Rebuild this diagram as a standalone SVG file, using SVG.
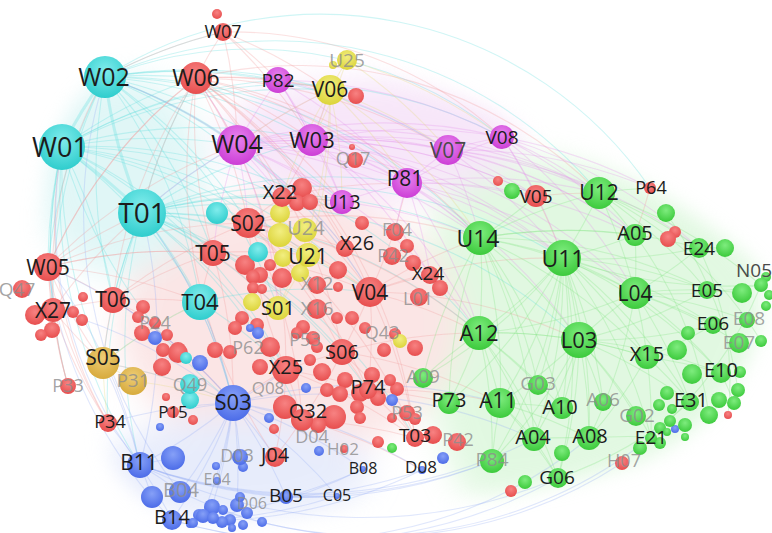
<svg xmlns="http://www.w3.org/2000/svg" width="772" height="533" viewBox="0 0 772 533">
<defs>
<filter id="blur" x="-40%" y="-40%" width="180%" height="180%"><feGaussianBlur stdDeviation="16"/></filter>
<filter id="blur2" x="-20%" y="-20%" width="140%" height="140%"><feGaussianBlur stdDeviation="10"/></filter>
<mask id="env" maskUnits="userSpaceOnUse" x="0" y="0" width="772" height="533"><path fill="#fff" filter="url(#blur2)" d="M40 200 Q50 110 105 65 Q200 18 300 40 Q420 70 520 118 Q650 170 765 265 L765 330 Q735 415 650 462 Q540 500 420 508 Q300 525 190 525 Q125 505 98 440 Q50 380 25 300 Q22 250 40 200Z"/></mask>
<radialGradient id="gc" cx="50%" cy="35%" r="65%"><stop offset="0" stop-color="#80ecec"/><stop offset="1" stop-color="#2fcdcd"/></radialGradient>
<radialGradient id="gr" cx="50%" cy="35%" r="65%"><stop offset="0" stop-color="#f78282"/><stop offset="1" stop-color="#e74e4e"/></radialGradient>
<radialGradient id="gm" cx="50%" cy="35%" r="65%"><stop offset="0" stop-color="#e884ee"/><stop offset="1" stop-color="#cc3ed6"/></radialGradient>
<radialGradient id="gg" cx="50%" cy="35%" r="65%"><stop offset="0" stop-color="#7eec7e"/><stop offset="1" stop-color="#3cca3c"/></radialGradient>
<radialGradient id="gb" cx="50%" cy="35%" r="65%"><stop offset="0" stop-color="#86a0f7"/><stop offset="1" stop-color="#4c6ce8"/></radialGradient>
<radialGradient id="gy" cx="50%" cy="35%" r="65%"><stop offset="0" stop-color="#f2ee80"/><stop offset="1" stop-color="#dcd43a"/></radialGradient>
<radialGradient id="go" cx="50%" cy="35%" r="65%"><stop offset="0" stop-color="#eecd76"/><stop offset="1" stop-color="#d7aa3c"/></radialGradient>
</defs>
<style>
.e path{fill:none;stroke-width:1.1;stroke-opacity:.3}
.ec path{stroke:#5fdede}.er path{stroke:#f29a9a}.em path{stroke:#e394ea}.eg path{stroke:#86e486}.eb path{stroke:#98aef4}.ey path{stroke:#e6dc80}
.c{fill:url(#gc)}.r{fill:url(#gr)}.m{fill:url(#gm)}.g{fill:url(#gg)}.b{fill:url(#gb)}.y{fill:url(#gy)}.o{fill:url(#go)}
text{font-family:"Open Sans","Noto Sans","DejaVu Sans",sans-serif;text-anchor:middle;fill:#1c1c1c}
text.lg{fill:#8c8c8c;fill-opacity:.8}
text.ld{fill:#4a4a4a}
</style>
<rect width="772" height="533" fill="#ffffff"/>
<g id="haze" mask="url(#env)"><g filter="url(#blur)" opacity="0.5">
<path fill="#c4f2c4" d="M440 175 Q560 135 680 195 Q772 250 770 300 Q760 390 700 440 Q600 500 470 500 Q420 420 430 300 Z"/>
<ellipse cx="290" cy="325" rx="170" ry="130" fill="#f7cccc"/>
<ellipse cx="120" cy="175" rx="85" ry="100" fill="#c2eeee"/>
<ellipse cx="370" cy="140" rx="150" ry="60" fill="#efcdf3"/>
<ellipse cx="235" cy="470" rx="135" ry="55" fill="#d0daf8"/>
</g></g>
<g id="connectors">
<g class="e ec">
<path d="M105 77A500 500 0 0 1 196 78"/><path d="M105 77A500 500 0 0 1 223 32"/><path d="M105 77A500 500 0 0 1 278 80"/><path d="M105 77A500 500 0 0 1 330 90"/><path d="M105 77A500 500 0 0 1 237 145"/><path d="M105 77A500 500 0 0 1 312 140"/><path d="M105 77A500 500 0 0 1 248 223"/><path d="M105 77A500 500 0 0 1 213 253"/><path d="M105 77A500 500 0 0 1 282 197"/><path d="M105 77A500 500 0 0 1 342 202"/><path d="M105 77A500 500 0 0 1 407 183"/><path d="M105 77A500 500 0 0 1 448 150"/><path d="M105 77A400 400 0 0 1 502 137"/><path d="M105 77A500 500 0 0 0 48 267"/><path d="M105 77A500 500 0 0 0 113 300"/><path d="M105 77A500 500 0 0 1 200 302"/><path d="M105 77A500 500 0 0 1 345 248"/><path d="M105 77A500 500 0 0 1 370 292"/><path d="M105 77A500 500 0 0 1 480 238"/><path d="M105 77A500 500 0 0 1 278 308"/><path d="M105 77A500 500 0 0 0 53 310"/><path d="M105 77A420 420 0 0 1 599 193"/><path d="M105 77A400 400 0 0 1 650 188"/>
<path d="M62 147A500 500 0 0 1 196 78"/><path d="M62 147A500 500 0 0 1 237 145"/><path d="M62 147A500 500 0 0 1 312 140"/><path d="M62 147A500 500 0 0 1 248 223"/><path d="M62 147A500 500 0 0 1 213 253"/><path d="M62 147A500 500 0 0 0 48 267"/><path d="M62 147A500 500 0 0 0 53 310"/><path d="M62 147A500 500 0 0 1 113 300"/><path d="M62 147A500 500 0 0 1 200 302"/><path d="M62 147A500 500 0 0 0 103 363"/><path d="M62 147A500 500 0 0 0 68 386"/><path d="M62 147A500 500 0 0 1 330 90"/><path d="M62 147A500 500 0 0 1 278 80"/><path d="M62 147A500 500 0 0 1 282 197"/><path d="M62 147A500 500 0 0 1 308 255"/><path d="M62 147A500 500 0 0 1 370 292"/><path d="M62 147A500 500 0 0 1 286 370"/><path d="M62 147A500 500 0 0 0 233 403"/><path d="M62 147A500 500 0 0 1 479 333"/><path d="M62 147A450 450 0 0 1 502 137"/><path d="M62 147A500 500 0 0 0 140 465"/>
<path d="M142 213A500 500 0 0 1 237 145"/><path d="M142 213A500 500 0 0 1 196 78"/><path d="M142 213A500 500 0 0 1 248 223"/><path d="M142 213A500 500 0 0 1 213 253"/><path d="M142 213A500 500 0 0 1 200 302"/><path d="M142 213A500 500 0 0 0 113 300"/><path d="M142 213A500 500 0 0 1 282 197"/><path d="M142 213A500 500 0 0 1 342 202"/><path d="M142 213A500 500 0 0 1 308 255"/><path d="M142 213A500 500 0 0 1 370 292"/><path d="M142 213A500 500 0 0 1 278 308"/><path d="M142 213A500 500 0 0 1 286 370"/><path d="M142 213A500 500 0 0 1 342 352"/><path d="M142 213A500 500 0 0 1 368 390"/><path d="M142 213A500 500 0 0 1 302 420"/><path d="M142 213A500 500 0 0 1 233 403"/><path d="M142 213A500 500 0 0 0 103 363"/><path d="M142 213A500 500 0 0 0 108 423"/><path d="M142 213A500 500 0 0 0 140 465"/><path d="M142 213A500 500 0 0 1 480 238"/><path d="M142 213A500 500 0 0 1 563 258"/><path d="M142 213A500 500 0 0 1 479 333"/><path d="M142 213A500 500 0 0 1 579 340"/><path d="M142 213A500 500 0 0 1 312 140"/><path d="M142 213A500 500 0 0 1 407 183"/><path d="M142 213A500 500 0 0 1 415 438"/>
<path d="M200 302A500 500 0 0 1 233 403"/><path d="M200 302A500 500 0 0 1 286 370"/><path d="M200 302A500 500 0 0 1 370 292"/><path d="M200 302A500 500 0 0 0 103 363"/>
<path style="stroke-width:3" d="M105 77A500 500 0 0 0 62 147"/><path style="stroke-width:3" d="M105 77A500 500 0 0 0 142 213"/><path style="stroke-width:3" d="M62 147A500 500 0 0 1 142 213"/>
</g>
<g class="e er">
<path d="M196 78A500 500 0 0 1 237 145"/><path d="M196 78A500 500 0 0 1 312 140"/><path d="M196 78A500 500 0 0 1 278 80"/><path d="M196 78A500 500 0 0 1 330 90"/><path d="M196 78A500 500 0 0 1 248 223"/><path d="M196 78A500 500 0 0 0 213 253"/><path d="M196 78A500 500 0 0 1 282 197"/><path d="M196 78A500 500 0 0 0 142 213"/><path d="M196 78A500 500 0 0 1 370 292"/><path d="M196 78A500 500 0 0 1 345 248"/><path d="M196 78A500 500 0 0 1 342 202"/><path d="M196 78A500 500 0 0 1 407 183"/><path d="M196 78A500 500 0 0 1 448 150"/><path d="M196 78A500 500 0 0 1 480 238"/><path d="M196 78A500 500 0 0 0 113 300"/><path d="M196 78A500 500 0 0 0 48 267"/><path d="M196 78A500 500 0 0 1 342 352"/><path d="M196 78A500 500 0 0 1 286 370"/><path d="M196 78A500 500 0 0 1 415 438"/><path d="M196 78A500 500 0 0 0 275 457"/><path d="M196 78A420 420 0 0 1 599 193"/>
<path d="M223 32A500 500 0 0 0 196 78"/><path d="M223 32A500 500 0 0 1 237 145"/><path d="M223 32A500 500 0 0 1 278 80"/><path d="M223 32A500 500 0 0 1 330 90"/><path d="M223 32A500 500 0 0 1 312 140"/><path d="M223 32A400 400 0 0 1 502 137"/><path d="M223 32A500 500 0 0 0 105 77"/>
<path d="M48 267A500 500 0 0 1 142 213"/><path d="M48 267A500 500 0 0 1 113 300"/><path d="M48 267A500 500 0 0 0 53 310"/><path d="M48 267A500 500 0 0 1 237 145"/><path d="M48 267A500 500 0 0 1 248 223"/><path d="M48 267A500 500 0 0 1 213 253"/><path d="M48 267A500 500 0 0 0 103 363"/><path d="M48 267A500 500 0 0 0 68 386"/><path d="M48 267A500 500 0 0 0 108 423"/><path d="M48 267A500 500 0 0 1 370 292"/><path d="M48 267A500 500 0 0 1 200 302"/><path d="M48 267A500 500 0 0 1 196 78"/>
<path d="M53 310A500 500 0 0 1 113 300"/><path d="M53 310A500 500 0 0 0 103 363"/><path d="M53 310A500 500 0 0 0 68 386"/><path d="M53 310A500 500 0 0 1 142 213"/><path d="M53 310A500 500 0 0 0 108 423"/>
<path d="M113 300A500 500 0 0 1 200 302"/><path d="M113 300A500 500 0 0 0 103 363"/><path d="M113 300A500 500 0 0 1 155 323"/><path d="M113 300A500 500 0 0 1 248 223"/><path d="M113 300A500 500 0 0 1 213 253"/><path d="M113 300A500 500 0 0 1 233 403"/>
<path d="M248 223A500 500 0 0 1 282 197"/><path d="M248 223A500 500 0 0 1 342 202"/><path d="M248 223A500 500 0 0 1 370 292"/><path d="M248 223A500 500 0 0 1 342 352"/><path d="M248 223A500 500 0 0 0 286 370"/><path d="M248 223A500 500 0 0 1 302 420"/><path d="M248 223A500 500 0 0 1 368 390"/><path d="M248 223A500 500 0 0 1 415 438"/><path d="M248 223A500 500 0 0 1 480 238"/><path d="M248 223A500 500 0 0 1 479 333"/><path d="M248 223A500 500 0 0 1 345 248"/>
<path d="M370 292A500 500 0 0 1 430 275"/><path d="M370 292A500 500 0 0 1 342 352"/><path d="M370 292A500 500 0 0 1 368 390"/><path d="M370 292A500 500 0 0 1 480 238"/><path d="M370 292A500 500 0 0 1 479 333"/><path d="M370 292A500 500 0 0 1 415 438"/><path d="M370 292A500 500 0 0 1 579 340"/><path d="M370 292A500 500 0 0 0 407 183"/><path d="M370 292A500 500 0 0 1 563 258"/>
<path d="M286 370A500 500 0 0 0 233 403"/><path d="M286 370A500 500 0 0 1 302 420"/><path d="M286 370A500 500 0 0 1 275 457"/><path d="M286 370A500 500 0 0 1 368 390"/><path d="M286 370A500 500 0 0 1 342 352"/><path d="M286 370A500 500 0 0 1 415 438"/>
<path d="M342 352A500 500 0 0 1 368 390"/><path d="M342 352A500 500 0 0 1 415 438"/><path d="M342 352A500 500 0 0 1 302 420"/><path d="M342 352A500 500 0 0 1 500 403"/><path d="M342 352A500 500 0 0 1 479 333"/>
<path d="M368 390A500 500 0 0 1 415 438"/><path d="M368 390A500 500 0 0 1 500 403"/><path d="M368 390A500 500 0 0 1 449 403"/>
<path d="M302 420A500 500 0 0 1 275 457"/><path d="M302 420A500 500 0 0 1 415 438"/><path d="M302 420A500 500 0 0 1 422 470"/>
<path d="M213 253A500 500 0 0 1 278 308"/><path d="M213 253A500 500 0 0 0 200 302"/><path d="M213 253A500 500 0 0 1 308 255"/><path d="M213 253A500 500 0 0 1 233 403"/>
<path d="M282 197A500 500 0 0 1 342 202"/><path d="M282 197A500 500 0 0 0 312 140"/><path d="M282 197A500 500 0 0 1 407 183"/><path d="M282 197A500 500 0 0 1 370 292"/>
<path d="M536 196A500 500 0 0 1 599 193"/><path d="M536 196A500 500 0 0 1 563 258"/><path d="M650 188A500 500 0 0 1 635 235"/>
<path d="M108 423A400 400 0 0 1 62 147"/><path d="M68 386A400 400 0 0 1 105 77"/>
</g>
<g class="e em">
<path d="M237 145A500 500 0 0 1 312 140"/><path d="M237 145A500 500 0 0 1 278 80"/><path d="M237 145A500 500 0 0 1 330 90"/><path d="M237 145A500 500 0 0 1 407 183"/><path d="M237 145A500 500 0 0 1 448 150"/><path d="M237 145A500 500 0 0 1 502 137"/><path d="M237 145A500 500 0 0 1 342 202"/><path d="M237 145A500 500 0 0 1 248 223"/><path d="M237 145A500 500 0 0 1 282 197"/><path d="M237 145A500 500 0 0 0 213 253"/><path d="M237 145A500 500 0 0 0 142 213"/><path d="M237 145A500 500 0 0 1 480 238"/><path d="M237 145A500 500 0 0 1 599 193"/><path d="M237 145A500 500 0 0 1 563 258"/><path d="M237 145A500 500 0 0 1 479 333"/><path d="M237 145A500 500 0 0 1 370 292"/><path d="M237 145A500 500 0 0 1 345 248"/><path d="M237 145A500 500 0 0 1 278 308"/><path d="M237 145A500 500 0 0 1 635 293"/><path d="M237 145A500 500 0 0 1 536 196"/><path d="M237 145A500 500 0 0 0 196 78"/><path d="M237 145A500 500 0 0 0 105 77"/>
<path d="M312 140A500 500 0 0 1 407 183"/><path d="M312 140A500 500 0 0 1 448 150"/><path d="M312 140A500 500 0 0 1 502 137"/><path d="M312 140A500 500 0 0 1 342 202"/><path d="M312 140A500 500 0 0 1 480 238"/><path d="M312 140A500 500 0 0 1 599 193"/><path d="M312 140A500 500 0 0 1 536 196"/><path d="M312 140A500 500 0 0 0 278 80"/><path d="M312 140A500 500 0 0 0 330 90"/><path d="M312 140A500 500 0 0 1 635 235"/><path d="M312 140A500 500 0 0 1 563 258"/><path d="M312 140A500 500 0 0 1 430 275"/><path d="M312 140A500 500 0 0 1 479 333"/>
<path d="M407 183A500 500 0 0 1 448 150"/><path d="M407 183A500 500 0 0 1 502 137"/><path d="M407 183A500 500 0 0 1 480 238"/><path d="M407 183A500 500 0 0 1 599 193"/><path d="M407 183A500 500 0 0 1 563 258"/><path d="M407 183A500 500 0 0 1 479 333"/><path d="M407 183A500 500 0 0 1 579 340"/><path d="M407 183A500 500 0 0 1 635 293"/><path d="M407 183A500 500 0 0 1 536 196"/><path d="M407 183A500 500 0 0 1 430 275"/><path d="M407 183A500 500 0 0 1 635 235"/><path d="M407 183A500 500 0 0 0 395 232"/>
<path d="M448 150A500 500 0 0 1 502 137"/><path d="M448 150A500 500 0 0 1 599 193"/><path d="M448 150A500 500 0 0 1 480 238"/><path d="M448 150A500 500 0 0 1 563 258"/><path d="M448 150A500 500 0 0 1 536 196"/><path d="M448 150A500 500 0 0 1 650 188"/><path d="M448 150A500 500 0 0 1 635 235"/><path d="M448 150A500 500 0 0 1 699 248"/>
<path d="M502 137A500 500 0 0 1 599 193"/><path d="M502 137A500 500 0 0 1 536 196"/><path d="M502 137A500 500 0 0 1 650 188"/><path d="M502 137A500 500 0 0 1 635 235"/><path d="M502 137A500 500 0 0 1 563 258"/><path d="M502 137A500 500 0 0 1 699 248"/><path d="M502 137A500 500 0 0 1 635 293"/>
<path d="M278 80A500 500 0 0 1 330 90"/><path d="M278 80A500 500 0 0 1 312 140"/><path d="M278 80A500 500 0 0 1 448 150"/><path d="M278 80A500 500 0 0 1 502 137"/><path d="M278 80A500 500 0 0 1 407 183"/><path d="M278 80A500 500 0 0 1 342 202"/>
<path d="M342 202A500 500 0 0 1 407 183"/><path d="M342 202A500 500 0 0 1 480 238"/>
</g>
<g class="e ey">
<path d="M330 90A500 500 0 0 1 347 60"/><path d="M330 90A500 500 0 0 0 278 80"/><path d="M330 90A500 500 0 0 1 312 140"/><path d="M330 90A500 500 0 0 1 342 202"/><path d="M330 90A500 500 0 0 1 407 183"/><path d="M330 90A500 500 0 0 1 448 150"/><path d="M330 90A500 500 0 0 1 308 255"/><path d="M330 90A500 500 0 0 1 278 308"/><path d="M330 90A500 500 0 0 0 237 145"/><path d="M330 90A500 500 0 0 0 282 197"/><path d="M330 90A500 500 0 0 1 480 238"/>
<path d="M347 60A500 500 0 0 1 312 140"/><path d="M347 60A500 500 0 0 1 448 150"/><path d="M347 60A500 500 0 0 1 502 137"/>
<path d="M308 255A500 500 0 0 1 278 308"/><path d="M308 255A500 500 0 0 0 248 223"/><path d="M308 255A500 500 0 0 1 370 292"/>
<path d="M103 363A500 500 0 0 1 133 381"/><path d="M103 363A500 500 0 0 1 200 302"/><path d="M103 363A500 500 0 0 1 233 403"/><path d="M103 363A500 500 0 0 0 108 423"/><path d="M133 381A500 500 0 0 1 233 403"/>
</g>
<g class="e eg">
<path d="M563 258A500 500 0 0 0 480 238"/><path d="M563 258A500 500 0 0 0 599 193"/><path d="M563 258A500 500 0 0 1 579 340"/><path d="M563 258A500 500 0 0 1 635 293"/><path d="M563 258A500 500 0 0 1 479 333"/><path d="M563 258A500 500 0 0 0 635 235"/><path d="M563 258A500 500 0 0 0 699 248"/><path d="M563 258A500 500 0 0 1 707 290"/><path d="M563 258A500 500 0 0 1 713 325"/><path d="M563 258A500 500 0 0 1 647 357"/><path d="M563 258A500 500 0 0 1 721 373"/><path d="M563 258A500 500 0 0 1 500 403"/><path d="M563 258A500 500 0 0 1 562 408"/><path d="M563 258A500 500 0 0 1 534 439"/><path d="M563 258A500 500 0 0 1 589 438"/><path d="M563 258A500 500 0 0 1 690 402"/><path d="M563 258A500 500 0 0 0 761 285"/><path d="M563 258A500 500 0 0 1 538 385"/><path d="M563 258A500 500 0 0 1 603 402"/><path d="M563 258A500 500 0 0 1 449 403"/><path d="M563 258A500 500 0 0 1 423 378"/><path d="M563 258A500 500 0 0 1 651 437"/><path d="M563 258A500 500 0 0 1 558 478"/><path d="M563 258A500 500 0 0 1 492 461"/>
<path d="M480 238A500 500 0 0 1 599 193"/><path d="M480 238A500 500 0 0 1 579 340"/><path d="M480 238A500 500 0 0 1 635 293"/><path d="M480 238A500 500 0 0 1 479 333"/><path d="M480 238A500 500 0 0 1 635 235"/><path d="M480 238A500 500 0 0 1 500 403"/><path d="M480 238A500 500 0 0 1 562 408"/><path d="M480 238A500 500 0 0 1 534 439"/><path d="M480 238A500 500 0 0 1 647 357"/><path d="M480 238A500 500 0 0 1 699 248"/><path d="M480 238A500 500 0 0 1 707 290"/><path d="M480 238A500 500 0 0 0 423 378"/><path d="M480 238A500 500 0 0 0 449 403"/><path d="M480 238A500 500 0 0 1 538 385"/><path d="M480 238A500 500 0 0 0 536 196"/>
<path d="M579 340A500 500 0 0 1 635 293"/><path d="M579 340A500 500 0 0 0 479 333"/><path d="M579 340A500 500 0 0 1 500 403"/><path d="M579 340A500 500 0 0 1 562 408"/><path d="M579 340A500 500 0 0 1 534 439"/><path d="M579 340A500 500 0 0 1 589 438"/><path d="M579 340A500 500 0 0 1 647 357"/><path d="M579 340A500 500 0 0 1 721 373"/><path d="M579 340A500 500 0 0 1 690 402"/><path d="M579 340A500 500 0 0 1 651 437"/><path d="M579 340A500 500 0 0 1 558 478"/><path d="M579 340A500 500 0 0 1 492 461"/><path d="M579 340A500 500 0 0 1 603 402"/><path d="M579 340A500 500 0 0 1 636 416"/><path d="M579 340A500 500 0 0 0 713 325"/><path d="M579 340A500 500 0 0 0 707 290"/>
<path d="M635 293A500 500 0 0 0 599 193"/><path d="M635 293A500 500 0 0 0 635 235"/><path d="M635 293A500 500 0 0 0 699 248"/><path d="M635 293A500 500 0 0 1 707 290"/><path d="M635 293A500 500 0 0 1 713 325"/><path d="M635 293A500 500 0 0 1 647 357"/><path d="M635 293A500 500 0 0 1 721 373"/><path d="M635 293A500 500 0 0 0 761 285"/><path d="M635 293A500 500 0 0 1 690 402"/><path d="M635 293A500 500 0 0 1 589 438"/><path d="M635 293A500 500 0 0 1 747 320"/><path d="M635 293A500 500 0 0 1 739 343"/>
<path d="M479 333A500 500 0 0 1 500 403"/><path d="M479 333A500 500 0 0 0 423 378"/><path d="M479 333A500 500 0 0 1 449 403"/><path d="M479 333A500 500 0 0 1 562 408"/><path d="M479 333A500 500 0 0 1 534 439"/><path d="M479 333A500 500 0 0 1 538 385"/><path d="M479 333A500 500 0 0 1 492 461"/><path d="M479 333A500 500 0 0 1 558 478"/><path d="M479 333A500 500 0 0 1 647 357"/><path d="M479 333A500 500 0 0 0 635 293"/>
<path d="M599 193A500 500 0 0 1 635 235"/><path d="M599 193A500 500 0 0 1 650 188"/><path d="M599 193A500 500 0 0 1 699 248"/><path d="M599 193A500 500 0 0 1 761 285"/><path d="M599 193A500 500 0 0 1 707 290"/>
<path d="M500 403A500 500 0 0 1 534 439"/><path d="M500 403A500 500 0 0 1 589 438"/><path d="M500 403A500 500 0 0 1 558 478"/><path d="M500 403A500 500 0 0 0 492 461"/><path d="M500 403A500 500 0 0 1 562 408"/>
<path d="M647 357A500 500 0 0 1 721 373"/><path d="M647 357A500 500 0 0 1 690 402"/><path d="M647 357A500 500 0 0 1 651 437"/><path d="M647 357A500 500 0 0 1 589 438"/><path d="M647 357A500 500 0 0 0 713 325"/>
<path d="M534 439A500 500 0 0 1 558 478"/><path d="M534 439A500 500 0 0 1 589 438"/><path d="M589 438A500 500 0 0 1 651 437"/>
<path d="M721 373A500 500 0 0 1 734 403"/><path d="M707 290A500 500 0 0 1 742 293"/><path d="M699 248A500 500 0 0 1 725 248"/>
<path d="M699 248A300 300 0 0 1 728 415"/><path d="M635 235A400 400 0 0 1 709 415"/><path d="M599 193A400 400 0 0 1 761 341"/><path d="M690 402A400 400 0 0 1 558 478"/><path d="M761 285A400 400 0 0 1 651 437"/><path d="M666 213A400 400 0 0 1 738 390"/>
</g>
<g class="e eb">
<path d="M233 403A500 500 0 0 1 140 465"/><path d="M233 403A500 500 0 0 1 180 492"/><path d="M233 403A500 500 0 0 1 172 520"/><path d="M233 403A500 500 0 0 1 286 497"/><path d="M233 403A500 500 0 0 1 240 457"/><path d="M233 403A500 500 0 0 1 275 457"/><path d="M233 403A500 500 0 0 1 302 420"/><path d="M233 403A500 500 0 0 0 286 370"/><path d="M233 403A500 500 0 0 0 103 363"/><path d="M233 403A500 500 0 0 0 108 423"/><path d="M233 403A500 500 0 0 0 173 412"/><path d="M233 403A500 500 0 0 1 337 496"/><path d="M233 403A500 500 0 0 1 363 469"/><path d="M233 403A500 500 0 0 1 422 470"/><path d="M233 403A500 500 0 0 0 142 213"/><path d="M233 403A500 500 0 0 0 200 302"/><path d="M233 403A500 500 0 0 0 113 300"/><path d="M233 403A500 500 0 0 0 53 310"/><path d="M233 403A500 500 0 0 0 48 267"/><path d="M233 403A500 500 0 0 1 500 403"/><path d="M233 403A500 500 0 0 1 534 439"/><path d="M233 403A500 500 0 0 1 217 481"/><path d="M233 403A500 500 0 0 1 212 507"/><path d="M233 403A500 500 0 0 1 237 505"/><path d="M233 403A500 500 0 0 1 203 515"/>
<path d="M140 465A500 500 0 0 1 180 492"/><path d="M140 465A500 500 0 0 1 172 520"/><path d="M140 465A500 500 0 0 0 103 363"/><path d="M140 465A500 500 0 0 0 108 423"/><path d="M140 465A500 500 0 0 1 152 497"/><path d="M140 465A500 500 0 0 0 142 213"/><path d="M140 465A500 500 0 0 0 48 267"/><path d="M140 465A500 500 0 0 1 173 458"/>
<path d="M286 497A500 500 0 0 1 140 465"/><path d="M337 496A500 500 0 0 1 140 465"/><path d="M558 478A500 500 0 0 1 140 465"/><path d="M534 439A500 500 0 0 1 140 465"/><path d="M492 461A500 500 0 0 1 140 465"/><path d="M422 470A500 500 0 0 1 172 520"/><path d="M558 478A500 500 0 0 1 172 520"/><path d="M589 438A450 450 0 0 1 172 520"/><path d="M622 463A450 450 0 0 1 180 492"/><path d="M363 469A500 500 0 0 1 172 520"/><path d="M337 496A500 500 0 0 1 172 520"/><path d="M492 461A500 500 0 0 1 286 497"/><path d="M422 470A500 500 0 0 1 286 497"/><path d="M363 469A500 500 0 0 1 286 497"/><path d="M337 496A500 500 0 0 1 286 497"/><path d="M651 437A450 450 0 0 1 212 507"/>
<path d="M140 465A400 400 0 0 1 62 147"/><path d="M172 520A450 450 0 0 1 48 267"/><path d="M180 492A450 450 0 0 1 105 77"/>
</g>
</g>
<g id="minor-nodes">
<circle id="u1" class="r" cx="217" cy="14" r="5"/><circle id="u2" class="r" cx="356" cy="96" r="8"/><circle id="u3" class="r" cx="352" cy="147" r="3"/><circle id="u4" class="r" cx="498" cy="181" r="5"/><circle id="u5" class="r" cx="302" cy="188" r="10"/><circle id="u6" class="r" cx="297" cy="203" r="8"/><circle id="u7" class="r" cx="310" cy="202" r="8"/><circle id="u8" class="r" cx="362" cy="223" r="7"/><circle id="u9" class="r" cx="407" cy="246" r="7"/><circle id="u10" class="r" cx="413" cy="263" r="8"/><circle id="u11" class="r" cx="440" cy="288" r="8"/><circle id="u12" class="r" cx="675" cy="232" r="6"/><circle id="u13" class="r" cx="668" cy="239" r="8"/><circle id="u14" class="r" cx="35" cy="315" r="10"/><circle id="u15" class="r" cx="73" cy="312" r="6"/><circle id="u16" class="r" cx="82" cy="320" r="6"/><circle id="u17" class="r" cx="83" cy="297" r="5"/><circle id="u18" class="r" cx="52" cy="330" r="8"/><circle id="u19" class="r" cx="41" cy="335" r="6"/><circle id="u20" class="r" cx="143" cy="307" r="7"/><circle id="u21" class="r" cx="138" cy="317" r="6"/><circle id="u22" class="r" cx="142" cy="333" r="8"/><circle id="u23" class="r" cx="167" cy="335" r="6"/><circle id="u24" class="r" cx="163" cy="350" r="7"/><circle id="u25" class="r" cx="178" cy="350" r="8"/><circle id="u26" class="r" cx="245" cy="265" r="10"/><circle id="u27" class="r" cx="270" cy="265" r="6"/><circle id="u28" class="r" cx="260" cy="275" r="8"/><circle id="u29" class="r" cx="282" cy="278" r="10"/><circle id="u30" class="r" cx="338" cy="270" r="9"/><circle id="u31" class="r" cx="338" cy="287" r="5"/><circle id="u32" class="r" cx="253" cy="277" r="7"/><circle id="u33" class="r" cx="253" cy="288" r="6"/><circle id="u34" class="r" cx="262" cy="289" r="5"/><circle id="u35" class="r" cx="337" cy="318" r="6"/><circle id="u36" class="r" cx="352" cy="318" r="7"/><circle id="u37" class="r" cx="365" cy="328" r="6"/><circle id="u38" class="r" cx="303" cy="327" r="7"/><circle id="u39" class="r" cx="297" cy="333" r="6"/><circle id="u40" class="r" cx="313" cy="338" r="7"/><circle id="u41" class="r" cx="317" cy="347" r="6"/><circle id="u42" class="r" cx="242" cy="318" r="7"/><circle id="u43" class="r" cx="235" cy="328" r="7"/><circle id="u44" class="r" cx="257" cy="325" r="7"/><circle id="u45" class="r" cx="270" cy="347" r="10"/><circle id="u46" class="r" cx="215" cy="350" r="8"/><circle id="u47" class="r" cx="230" cy="352" r="7"/><circle id="u48" class="r" cx="415" cy="348" r="8"/><circle id="u49" class="r" cx="260" cy="367" r="8"/><circle id="u50" class="r" cx="322" cy="372" r="9"/><circle id="u51" class="r" cx="310" cy="360" r="6"/><circle id="u52" class="r" cx="327" cy="390" r="7"/><circle id="u53" class="r" cx="345" cy="380" r="8"/><circle id="u54" class="r" cx="340" cy="394" r="8"/><circle id="u55" class="r" cx="360" cy="393" r="9"/><circle id="u56" class="r" cx="357" cy="407" r="7"/><circle id="u57" class="r" cx="378" cy="398" r="8"/><circle id="u58" class="r" cx="378" cy="442" r="6"/><circle id="u59" class="r" cx="334" cy="417" r="12"/><circle id="u60" class="r" cx="360" cy="418" r="6"/><circle id="u61" class="r" cx="318" cy="425" r="8"/><circle id="u62" class="r" cx="285" cy="407" r="12"/><circle id="u63" class="r" cx="193" cy="420" r="5"/><circle id="u64" class="r" cx="274" cy="429" r="5"/><circle id="u65" class="r" cx="344" cy="449" r="4"/><circle id="u66" class="r" cx="433" cy="435" r="9"/><circle id="u67" class="r" cx="397" cy="389" r="7"/><circle id="u68" class="r" cx="407" cy="413" r="8"/><circle id="u69" class="r" cx="415" cy="419" r="6"/><circle id="u70" class="r" cx="392" cy="418" r="5"/><circle id="u71" class="r" cx="511" cy="491" r="6"/><circle id="u72" class="r" cx="162" cy="367" r="9"/><circle id="u73" class="r" cx="178" cy="353" r="10"/><circle id="u74" class="r" cx="166" cy="397" r="4"/><circle id="u75" class="r" cx="728" cy="415" r="4"/><circle id="u76" class="r" cx="384" cy="350" r="7"/><circle id="u77" class="r" cx="395" cy="334" r="6"/><circle id="u78" class="r" cx="372" cy="375" r="8"/><circle id="u79" class="r" cx="390" cy="380" r="6"/>
<circle id="u80" class="b" cx="155" cy="338" r="7"/><circle id="u81" class="b" cx="250" cy="328" r="4"/><circle id="u82" class="b" cx="258" cy="333" r="6"/><circle id="u83" class="b" cx="200" cy="363" r="8"/><circle id="u84" class="b" cx="306" cy="388" r="5"/><circle id="u85" class="b" cx="269" cy="418" r="5"/><circle id="u86" class="b" cx="319" cy="451" r="5"/><circle id="u87" class="b" cx="243" cy="467" r="5"/><circle id="u88" class="b" cx="216" cy="466" r="4"/><circle id="u89" class="b" cx="443" cy="458" r="6"/><circle id="u90" class="b" cx="392" cy="400" r="6"/><circle id="u91" class="b" cx="160" cy="427" r="4"/><circle id="u92" class="b" cx="173" cy="458" r="12"/><circle id="u93" class="b" cx="152" cy="497" r="11"/><circle id="u94" class="b" cx="190" cy="524" r="4"/><circle id="u95" class="b" cx="199" cy="515" r="6"/><circle id="u96" class="b" cx="212" cy="507" r="8"/><circle id="u97" class="b" cx="203" cy="516" r="7"/><circle id="u98" class="b" cx="223" cy="510" r="5"/><circle id="u99" class="b" cx="237" cy="505" r="7"/><circle id="u100" class="b" cx="247" cy="513" r="6"/><circle id="u101" class="b" cx="230" cy="520" r="6"/><circle id="u102" class="b" cx="243" cy="525" r="5"/><circle id="u103" class="b" cx="262" cy="522" r="5"/><circle id="u104" class="b" cx="222" cy="522" r="6"/><circle id="u105" class="b" cx="213" cy="518" r="6"/><circle id="u106" class="b" cx="232" cy="528" r="4"/><circle id="u107" class="b" cx="193" cy="523" r="5"/><circle id="u108" class="b" cx="675" cy="429" r="4"/><circle id="u109" class="b" cx="240" cy="497" r="5"/>
<circle id="u110" class="c" cx="217" cy="213" r="11"/><circle id="u111" class="c" cx="258" cy="252" r="10"/><circle id="u112" class="c" cx="190" cy="400" r="9"/><circle id="u113" class="c" cx="186" cy="358" r="6"/>
<circle id="u114" class="y" cx="333" cy="65" r="4"/><circle id="u115" class="y" cx="280" cy="213" r="10"/><circle id="u116" class="y" cx="280" cy="235" r="12"/><circle id="u117" class="y" cx="283" cy="258" r="9"/><circle id="u118" class="y" cx="300" cy="273" r="9"/><circle id="u119" class="y" cx="252" cy="302" r="9"/><circle id="u120" class="y" cx="400" cy="341" r="7"/>
<circle id="u121" class="g" cx="512" cy="191" r="8"/><circle id="u122" class="g" cx="666" cy="213" r="9"/><circle id="u123" class="g" cx="725" cy="248" r="9"/><circle id="u124" class="g" cx="769" cy="295" r="5"/><circle id="u125" class="g" cx="766" cy="306" r="5"/><circle id="u126" class="g" cx="742" cy="293" r="10"/><circle id="u127" class="g" cx="761" cy="341" r="6"/><circle id="u128" class="g" cx="688" cy="333" r="7"/><circle id="u129" class="g" cx="677" cy="350" r="10"/><circle id="u130" class="g" cx="692" cy="374" r="10"/><circle id="u131" class="g" cx="667" cy="393" r="7"/><circle id="u132" class="g" cx="659" cy="405" r="6"/><circle id="u133" class="g" cx="672" cy="409" r="5"/><circle id="u134" class="g" cx="719" cy="400" r="8"/><circle id="u135" class="g" cx="734" cy="403" r="7"/><circle id="u136" class="g" cx="738" cy="390" r="7"/><circle id="u137" class="g" cx="709" cy="415" r="9"/><circle id="u138" class="g" cx="685" cy="425" r="7"/><circle id="u139" class="g" cx="670" cy="421" r="6"/><circle id="u140" class="g" cx="685" cy="437" r="4"/><circle id="u141" class="g" cx="660" cy="428" r="6"/><circle id="u142" class="g" cx="660" cy="443" r="6"/><circle id="u143" class="g" cx="640" cy="448" r="7"/><circle id="u144" class="g" cx="667" cy="432" r="4"/><circle id="u145" class="g" cx="562" cy="453" r="8"/><circle id="u146" class="g" cx="392" cy="448" r="5"/><circle id="u147" class="g" cx="525" cy="482" r="7"/><circle id="u148" class="g" cx="766" cy="277" r="5"/><circle id="u149" class="g" cx="740" cy="372" r="6"/>
</g>
<g id="nodes">
<g id="n-W02"><circle class="c" cx="105" cy="77" r="21"/><text x="104" y="86" font-size="25">W02</text></g>
<g id="n-W01"><circle class="c" cx="62" cy="147" r="23"/><text x="60" y="157" font-size="27">W01</text></g>
<g id="n-T01"><circle class="c" cx="142" cy="213" r="24"/><text x="142" y="223" font-size="28">T01</text></g>
<g id="n-T04"><circle class="c" cx="200" cy="302" r="18"/><text x="200" y="310" font-size="22">T04</text></g>
<g id="n-Q49"><circle class="c" cx="190" cy="384" r="10"/><text class="lg" x="190" y="391" font-size="18">Q49</text></g>
<g id="n-W06"><circle class="r" cx="196" cy="78" r="16"/><text x="196" y="86" font-size="23">W06</text></g>
<g id="n-W07"><circle class="r" cx="223" cy="32" r="9"/><text x="223" y="38" font-size="18">W07</text></g>
<g id="n-W05"><circle class="r" cx="48" cy="267" r="14"/><text x="48" y="275" font-size="21">W05</text></g>
<g id="n-Q47"><circle class="r" cx="22" cy="289" r="9"/><text class="lg" x="17" y="296" font-size="19">Q47</text></g>
<g id="n-X27"><circle class="r" cx="53" cy="310" r="12"/><text x="53" y="318" font-size="21">X27</text></g>
<g id="n-T06"><circle class="r" cx="113" cy="300" r="13"/><text x="113" y="307" font-size="21">T06</text></g>
<g id="n-T05"><circle class="r" cx="213" cy="253" r="13"/><text x="213" y="261" font-size="21">T05</text></g>
<g id="n-S02"><circle class="r" cx="248" cy="223" r="15"/><text x="248" y="231" font-size="21">S02</text></g>
<g id="n-X22"><circle class="r" cx="282" cy="197" r="10"/><text x="280" y="199" font-size="20">X22</text></g>
<g id="n-X26"><circle class="r" cx="345" cy="248" r="9"/><text x="357" y="250" font-size="20">X26</text></g>
<g id="n-V04"><circle class="r" cx="370" cy="292" r="15"/><text x="370" y="300" font-size="21">V04</text></g>
<g id="n-X24"><circle class="r" cx="430" cy="275" r="9"/><text x="428" y="280" font-size="19">X24</text></g>
<g id="n-V05"><circle class="r" cx="536" cy="196" r="11"/><text x="536" y="203" font-size="19">V05</text></g>
<g id="n-P64"><circle class="r" cx="650" cy="188" r="6"/><text x="651" y="194" font-size="18">P64</text></g>
<g id="n-Q17"><circle class="r" cx="355" cy="160" r="8"/><text class="lg" x="353" y="165" font-size="18">Q17</text></g>
<g id="n-X12"><circle class="r" cx="317" cy="285" r="9"/><text class="lg" x="317" y="290" font-size="19">X12</text></g>
<g id="n-X16"><circle class="r" cx="317" cy="309" r="10"/><text class="lg" x="317" y="315" font-size="19">X16</text></g>
<g id="n-S06"><circle class="r" cx="342" cy="352" r="13"/><text x="342" y="359" font-size="20">S06</text></g>
<g id="n-X25"><circle class="r" cx="286" cy="370" r="14"/><text x="286" y="374" font-size="20">X25</text></g>
<g id="n-P74"><circle class="r" cx="368" cy="390" r="9"/><text x="368" y="394" font-size="20">P74</text></g>
<g id="n-Q32"><circle class="r" cx="302" cy="420" r="11"/><text x="308" y="418" font-size="20">Q32</text></g>
<g id="n-T03"><circle class="r" cx="415" cy="438" r="9"/><text x="415" y="442" font-size="19">T03</text></g>
<g id="n-P42b"><circle class="r" cx="457" cy="442" r="9"/><text class="lg" x="458" y="446" font-size="18">P42</text></g>
<g id="n-J04"><circle class="r" cx="275" cy="457" r="10"/><text x="275" y="462" font-size="20">J04</text></g>
<g id="n-P33"><circle class="r" cx="68" cy="386" r="8"/><text class="lg" x="68" y="392" font-size="18">P33</text></g>
<g id="n-P34"><circle class="r" cx="108" cy="423" r="9"/><text x="110" y="428" font-size="18">P34</text></g>
<g id="n-P15"><circle class="r" cx="173" cy="412" r="6"/><text x="173" y="418" font-size="17">P15</text></g>
<g id="n-P24"><circle class="r" cx="155" cy="323" r="6"/><text class="lg" x="155" y="329" font-size="18">P24</text></g>
<g id="n-L01"><circle class="r" cx="419" cy="297" r="9"/><text class="lg" x="418" y="305" font-size="18">L01</text></g>
<g id="n-F04"><circle class="r" cx="395" cy="232" r="9"/><text class="lg" x="397" y="236" font-size="18">F04</text></g>
<g id="n-P42"><circle class="r" cx="392" cy="256" r="9"/><text class="lg" x="393" y="262" font-size="18">P42</text></g>
<g id="n-P53"><text class="lg" x="305" y="346" font-size="18">P53</text></g>
<g id="n-P53b"><text class="lg" x="407" y="419" font-size="18">P53</text></g>
<g id="n-Q43"><text class="lg" x="382" y="339" font-size="18">Q43</text></g>
<g id="n-Q08"><text class="lg" x="268" y="394" font-size="17">Q08</text></g>
<g id="n-D04"><text class="lg" x="312" y="443" font-size="18">D04</text></g>
<g id="n-H02"><text class="lg" x="343" y="455" font-size="17">H02</text></g>
<g id="n-P62"><text class="lg" x="248" y="354" font-size="18">P62</text></g>
<g id="n-H07"><circle class="r" cx="622" cy="463" r="7"/><text class="lg" x="624" y="467" font-size="18">H07</text></g>
<g id="n-W04"><circle class="m" cx="237" cy="145" r="20"/><text x="237" y="153" font-size="25">W04</text></g>
<g id="n-W03"><circle class="m" cx="312" cy="140" r="16"/><text x="312" y="148" font-size="22">W03</text></g>
<g id="n-P82"><circle class="m" cx="278" cy="80" r="13"/><text x="278" y="87" font-size="19">P82</text></g>
<g id="n-P81"><circle class="m" cx="407" cy="183" r="15"/><text x="405" y="186" font-size="21">P81</text></g>
<g id="n-V07"><circle class="m" cx="448" cy="150" r="15"/><text class="ld" x="448" y="158" font-size="21">V07</text></g>
<g id="n-V08"><circle class="m" cx="502" cy="137" r="12"/><text x="502" y="144" font-size="19">V08</text></g>
<g id="n-U13"><circle class="m" cx="342" cy="202" r="12"/><text x="342" y="209" font-size="20">U13</text></g>
<g id="n-V06"><circle class="y" cx="330" cy="90" r="15"/><text x="330" y="97" font-size="21">V06</text></g>
<g id="n-U25"><circle class="y" cx="347" cy="60" r="10"/><text class="lg" x="347" y="67" font-size="19">U25</text></g>
<g id="n-U24"><circle class="y" cx="305" cy="230" r="12"/><text class="lg" x="306" y="235" font-size="20">U24</text></g>
<g id="n-U21"><circle class="y" cx="308" cy="255" r="12"/><text x="308" y="264" font-size="21">U21</text></g>
<g id="n-S01"><circle class="y" cx="278" cy="308" r="12"/><text x="278" y="315" font-size="20">S01</text></g>
<g id="n-S05"><circle class="o" cx="103" cy="363" r="16"/><text x="103" y="365" font-size="21">S05</text></g>
<g id="n-P31"><circle class="o" cx="133" cy="381" r="14"/><text class="lg" x="133" y="387" font-size="19">P31</text></g>
<g id="n-U14"><circle class="g" cx="480" cy="238" r="17"/><text x="478" y="247" font-size="23">U14</text></g>
<g id="n-U11"><circle class="g" cx="563" cy="258" r="18"/><text x="563" y="267" font-size="23">U11</text></g>
<g id="n-U12"><circle class="g" cx="599" cy="193" r="16"/><text x="599" y="200" font-size="21">U12</text></g>
<g id="n-A05"><circle class="g" cx="635" cy="235" r="11"/><text x="635" y="240" font-size="20">A05</text></g>
<g id="n-E24"><circle class="g" cx="699" cy="248" r="10"/><text x="699" y="255" font-size="19">E24</text></g>
<g id="n-N05"><circle class="g" cx="761" cy="285" r="7"/><text class="ld" x="754" y="277" font-size="19">N05</text></g>
<g id="n-L04"><circle class="g" cx="635" cy="293" r="16"/><text x="635" y="301" font-size="21">L04</text></g>
<g id="n-E05"><circle class="g" cx="707" cy="290" r="9"/><text x="707" y="297" font-size="19">E05</text></g>
<g id="n-E06"><circle class="g" cx="713" cy="325" r="9"/><text x="713" y="330" font-size="19">E06</text></g>
<g id="n-E08"><circle class="g" cx="747" cy="320" r="8"/><text class="lg" x="749" y="325" font-size="19">E08</text></g>
<g id="n-E07"><circle class="g" cx="739" cy="343" r="10"/><text class="lg" x="739" y="349" font-size="19">E07</text></g>
<g id="n-A12"><circle class="g" cx="479" cy="333" r="17"/><text x="479" y="341" font-size="22">A12</text></g>
<g id="n-L03"><circle class="g" cx="579" cy="340" r="18"/><text x="579" y="348" font-size="22">L03</text></g>
<g id="n-X15"><circle class="g" cx="647" cy="357" r="12"/><text x="647" y="361" font-size="20">X15</text></g>
<g id="n-E10"><circle class="g" cx="721" cy="373" r="10"/><text x="721" y="377" font-size="20">E10</text></g>
<g id="n-E31"><circle class="g" cx="690" cy="402" r="9"/><text x="691" y="407" font-size="20">E31</text></g>
<g id="n-A09"><circle class="g" cx="423" cy="378" r="10"/><text class="lg" x="423" y="383" font-size="19">A09</text></g>
<g id="n-G03"><circle class="g" cx="538" cy="385" r="10"/><text class="lg" x="538" y="390" font-size="19">G03</text></g>
<g id="n-A06"><circle class="g" cx="603" cy="402" r="9"/><text class="lg" x="603" y="406" font-size="19">A06</text></g>
<g id="n-G02"><circle class="g" cx="636" cy="416" r="10"/><text class="lg" x="637" y="422" font-size="19">G02</text></g>
<g id="n-P73"><circle class="g" cx="449" cy="403" r="11"/><text x="449" y="407" font-size="20">P73</text></g>
<g id="n-A11"><circle class="g" cx="500" cy="403" r="15"/><text x="498" y="408" font-size="21">A11</text></g>
<g id="n-A10"><circle class="g" cx="562" cy="408" r="11"/><text x="560" y="414" font-size="20">A10</text></g>
<g id="n-A04"><circle class="g" cx="534" cy="439" r="12"/><text x="533" y="444" font-size="20">A04</text></g>
<g id="n-A08"><circle class="g" cx="589" cy="438" r="12"/><text x="590" y="443" font-size="20">A08</text></g>
<g id="n-E21"><circle class="g" cx="651" cy="438" r="6"/><text x="651" y="444" font-size="19">E21</text></g>
<g id="n-P84"><circle class="g" cx="492" cy="461" r="12"/><text class="lg" x="492" y="466" font-size="19">P84</text></g>
<g id="n-G06"><circle class="g" cx="558" cy="478" r="10"/><text x="557" y="484" font-size="19">G06</text></g>
<g id="n-S03"><circle class="b" cx="233" cy="403" r="18"/><text x="233" y="410" font-size="22">S03</text></g>
<g id="n-D03"><circle class="b" cx="240" cy="457" r="8"/><text class="lg" x="237" y="462" font-size="18">D03</text></g>
<g id="n-E04"><circle class="b" cx="217" cy="481" r="4"/><text class="lg" x="217" y="485" font-size="16">E04</text></g>
<g id="n-B08"><circle class="b" cx="363" cy="469" r="3"/><text x="363" y="474" font-size="16">B08</text></g>
<g id="n-D08"><circle class="b" cx="422" cy="470" r="4"/><text x="421" y="473" font-size="17">D08</text></g>
<g id="n-B11"><circle class="b" cx="140" cy="465" r="13"/><text x="139" y="470" font-size="21">B11</text></g>
<g id="n-B04"><circle class="b" cx="180" cy="492" r="11"/><text class="lg" x="181" y="497" font-size="20">B04</text></g>
<g id="n-B14"><circle class="b" cx="172" cy="520" r="10"/><text x="172" y="524" font-size="20">B14</text></g>
<g id="n-B05"><circle class="b" cx="286" cy="497" r="7"/><text x="286" y="502" font-size="19">B05</text></g>
<g id="n-C05"><circle class="b" cx="337" cy="496" r="3"/><text x="337" y="501" font-size="16">C05</text></g>
<g id="n-D06"><text class="lg" x="252" y="509" font-size="16">D06</text></g>
</g>
</svg>
